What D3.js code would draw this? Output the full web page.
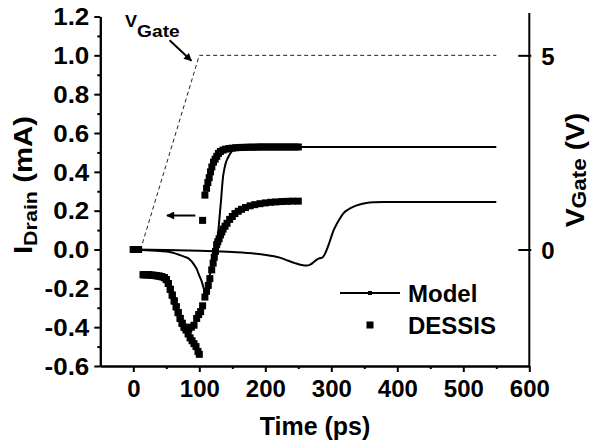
<!DOCTYPE html>
<html><head><meta charset="utf-8">
<script src="https://cdn.jsdelivr.net/npm/d3@7"></script>
<style>
html,body{margin:0;padding:0;background:#fff;}
svg{display:block;font-family:"Liberation Sans",Arial,sans-serif;font-weight:bold;}
</style></head>
<body>
<svg id="chart" width="593" height="442"></svg>
<script>
// ---- data ----
const timeTicks = [0,100,200,300,400,500,600];
const timeMinor = [50,150,250,350,450,550];
const iTicks = [-0.6,-0.4,-0.2,0,0.2,0.4,0.6,0.8,1.0,1.2];
const iTickLabels = ["-0.6","-0.4","-0.2","0.0","0.2","0.4","0.6","0.8","1.0","1.2"];
const iMinor = [-0.5,-0.3,-0.1,0.1,0.3,0.5,0.7,0.9,1.1];
const vTicks = [0,5];

// Model (solid lines)
const modelFastT = [0,20,40,55,63,70,78,84,88,92,96,100,104,107,109,111,113.6,116,118.8,121,122.7,125,127,128.8,130,131.4,133,134,136,138,140.5,143,145.5,148,151.5,156,165,180,200,250,300,400,550];
const modelFastI = [0,-0.004,-0.008,-0.013,-0.02,-0.028,-0.038,-0.047,-0.06,-0.078,-0.1,-0.135,-0.168,-0.205,-0.228,-0.212,-0.168,-0.13,-0.095,-0.068,-0.04,-0.005,0.045,0.095,0.14,0.195,0.255,0.3,0.375,0.415,0.45,0.47,0.487,0.5,0.512,0.52,0.525,0.527,0.528,0.528,0.528,0.528,0.528];
const modelSlowT = [0,50,100,150,196,222,235,245,255,263,268,273,277,280,284,287,290,293,296,299,303,308,313,318,325,333,343,353,365,380,400,550];
const modelSlowI = [0,-0.003,-0.007,-0.013,-0.026,-0.042,-0.058,-0.07,-0.08,-0.083,-0.078,-0.066,-0.055,-0.048,-0.044,-0.04,-0.025,-0.002,0.025,0.055,0.095,0.13,0.16,0.185,0.205,0.22,0.232,0.239,0.243,0.245,0.245,0.245];

// DESSIS (square markers)
const dessisFastT = [0,8,15,19,23,27,31,35,39,43,47,50,53,56,59,62,65,68,71,74,77,80,83,86,89,92,95,98,100,105,108.5,111,113,115,117,119,121.5,124,126.5,129,132,136,140,145,150,155,160,165,170,175,180,185,190,195,200,205,210,215,220,225,230,235,240,245,250];
const dessisFastI = [0,0,-0.13,-0.13,-0.13,-0.132,-0.133,-0.135,-0.137,-0.14,-0.145,-0.155,-0.175,-0.205,-0.235,-0.265,-0.295,-0.325,-0.355,-0.38,-0.4,-0.415,-0.435,-0.455,-0.47,-0.485,-0.5,-0.525,-0.54,0.15,0.28,0.315,0.345,0.37,0.4,0.425,0.45,0.465,0.48,0.495,0.505,0.512,0.517,0.52,0.522,0.524,0.525,0.526,0.526,0.527,0.527,0.527,0.528,0.528,0.528,0.528,0.528,0.528,0.528,0.528,0.528,0.528,0.528,0.528,0.528];
const dessisSlowT = [0,8,15,19,23,27,31,35,39,43,47,50,53,56,59,62,65,68,71,74,77,80,84,88,92,96,99,102,105,108.5,111,113.6,116,118.8,121,122.7,124.5,126.3,128,130,132,134,136,139,142,146,150,154,159,164,170,177,184,192,200,208,216,225,233,241,250];
const dessisSlowI = [0,0,-0.13,-0.13,-0.13,-0.132,-0.133,-0.135,-0.137,-0.14,-0.145,-0.155,-0.175,-0.205,-0.235,-0.265,-0.295,-0.325,-0.355,-0.38,-0.4,-0.41,-0.41,-0.4,-0.39,-0.355,-0.335,-0.32,-0.29,-0.245,-0.215,-0.185,-0.15,-0.105,-0.07,-0.04,-0.01,0.025,0.04,0.055,0.075,0.09,0.105,0.12,0.135,0.155,0.17,0.185,0.197,0.207,0.216,0.225,0.231,0.236,0.24,0.243,0.245,0.247,0.248,0.249,0.249];

// Gate voltage (dashed, right axis)
const gateT = [0,11,100,550];
const gateV = [0,0,5,5];

// annotation arrows in data units [t0, I0, t1, I1]
const gateArrow = [55,1.078,88,0.972];
const leftArrow = [94,0.175,51,0.175];

// ---- layout ----
const svg = d3.select("#chart");
const x = d3.scaleLinear().domain([-50,600]).range([100.3,529.3]);
const y = d3.scaleLinear().domain([-0.6,1.2]).range([366,16.5]);
const yR = d3.scaleLinear().domain([-3,6]).range([366,16.5]);
const FONT = "'Liberation Sans',Arial,sans-serif";
const SX = 1.13; // horizontal widening of the reference lettering

// arrowhead
svg.append("defs").append("marker")
  .attr("id","ah").attr("viewBox","0 0 10 10").attr("refX",9).attr("refY",5)
  .attr("markerWidth",11).attr("markerHeight",8).attr("markerUnits","userSpaceOnUse")
  .attr("orient","auto")
  .append("path").attr("d","M0,0 L10,5 L0,10 Z").attr("fill","#000");

// gate dashed line
svg.append("path")
  .datum(gateT.map((t,i)=>[t,gateV[i]]))
  .attr("fill","none").attr("stroke","#222").attr("stroke-width",1)
  .attr("stroke-dasharray","4,3")
  .attr("d", d3.line().x(d=>x(d[0])).y(d=>yR(d[1])));

// model lines
const lineGen = d3.line().x(d=>x(d[0])).y(d=>y(d[1])).curve(d3.curveMonotoneX);
[[modelFastT,modelFastI],[modelSlowT,modelSlowI]].forEach(([T,I])=>{
  svg.append("path").datum(T.map((t,i)=>[t,I[i]]))
    .attr("fill","none").attr("stroke","#000").attr("stroke-width",2)
    .attr("d", lineGen);
});

// DESSIS markers
const MS = 7;
[[dessisFastT,dessisFastI],[dessisSlowT,dessisSlowI]].forEach(([T,I])=>{
  svg.append("g").selectAll("rect").data(T.map((t,i)=>[t,I[i]])).join("rect")
    .attr("x",d=>x(d[0])-MS/2).attr("y",d=>y(d[1])-MS/2)
    .attr("width",MS).attr("height",MS).attr("fill","#000");
});

// axes
function styleAxis(g, fs){
  g.select(".domain").attr("stroke","#000").attr("stroke-width",2);
  g.selectAll(".tick line").attr("stroke","#000").attr("stroke-width",2);
  g.selectAll("text").attr("font-size",fs).attr("font-weight","bold")
    .attr("font-family",FONT).attr("fill","#000");
}
const gL = svg.append("g").attr("transform","translate(100.3,0)")
  .call(d3.axisLeft(y).tickValues(iTicks).tickFormat((d,i)=>iTickLabels[i]).tickSize(6).tickSizeOuter(0).tickPadding(5));
styleAxis(gL, 23);
gL.selectAll(".tick text").attr("x",-11/SX).attr("transform",`scale(${SX},1)`).attr("dy","0.36em");
const gLm = svg.append("g").attr("transform","translate(100.3,0)")
  .call(d3.axisLeft(y).tickValues(iMinor).tickFormat("").tickSize(3).tickSizeOuter(0));
styleAxis(gLm, 23);

const gB = svg.append("g").attr("transform","translate(0,366)")
  .call(d3.axisBottom(x).tickValues(timeTicks).tickFormat(d3.format("d")).tickSize(6).tickSizeOuter(0).tickPadding(8));
styleAxis(gB, 24);
const gBm = svg.append("g").attr("transform","translate(0,366)")
  .call(d3.axisBottom(x).tickValues(timeMinor).tickFormat("").tickSize(3).tickSizeOuter(0));
styleAxis(gBm, 24);

const gR = svg.append("g").attr("transform","translate(529.3,0)")
  .call(d3.axisRight(yR).tickValues(vTicks).tickFormat(d3.format("d")).tickSize(-11).tickPadding(12));
gR.select(".domain").remove();
styleAxis(gR, 24);
gR.selectAll(".tick line").attr("x2",-11).attr("x1",2);
gR.selectAll(".tick text").attr("dy","0.38em");
svg.append("line").attr("x1",529.3).attr("x2",529.3).attr("y1",13).attr("y2",367)
  .attr("stroke","#000").attr("stroke-width",2);

// axis titles
svg.append("text").attr("x",315).attr("y",435).attr("text-anchor","middle")
  .attr("font-size",25).text("Time (ps)");

const tL = svg.append("text").attr("transform",`translate(32,185) rotate(-90) scale(${SX},1)`)
  .attr("text-anchor","middle").attr("font-size",26);
tL.append("tspan").text("I");
tL.append("tspan").attr("font-size",19).attr("dy",5).text("Drain");
tL.append("tspan").attr("dy",-5).text(" (mA)");

const tR = svg.append("text").attr("transform",`translate(584,170) rotate(-90) scale(${SX},1)`)
  .attr("text-anchor","middle").attr("font-size",25);
tR.append("tspan").text("V");
tR.append("tspan").attr("font-size",20).attr("dy",2).text("Gate");
tR.append("tspan").attr("dy",-2).text(" (V)");

// annotations
const aG = svg.append("text").attr("transform",`translate(125,26.5) scale(${SX},1)`).attr("font-size",16);
aG.append("tspan").text("V");
aG.append("tspan").attr("font-size",17).attr("dy",10).text("Gate");

[gateArrow,leftArrow].forEach(a=>{
  svg.append("line").attr("x1",x(a[0])).attr("y1",y(a[1])).attr("x2",x(a[2])).attr("y2",y(a[3]))
    .attr("stroke","#000").attr("stroke-width",2).attr("marker-end","url(#ah)");
});

// legend
const lg = svg.append("g");
lg.append("line").attr("x1",340).attr("x2",400).attr("y1",293).attr("y2",293)
  .attr("stroke","#000").attr("stroke-width",2);
lg.append("rect").attr("x",368).attr("y",291).attr("width",4).attr("height",4).attr("fill","#000");
lg.append("text").attr("x",408).attr("y",301.5).attr("font-size",24).text("Model");
lg.append("rect").attr("x",366.5).attr("y",321.5).attr("width",MS).attr("height",MS).attr("fill","#000");
lg.append("text").attr("x",408).attr("y",333.5).attr("font-size",24).text("DESSIS");
</script>
</body></html>
